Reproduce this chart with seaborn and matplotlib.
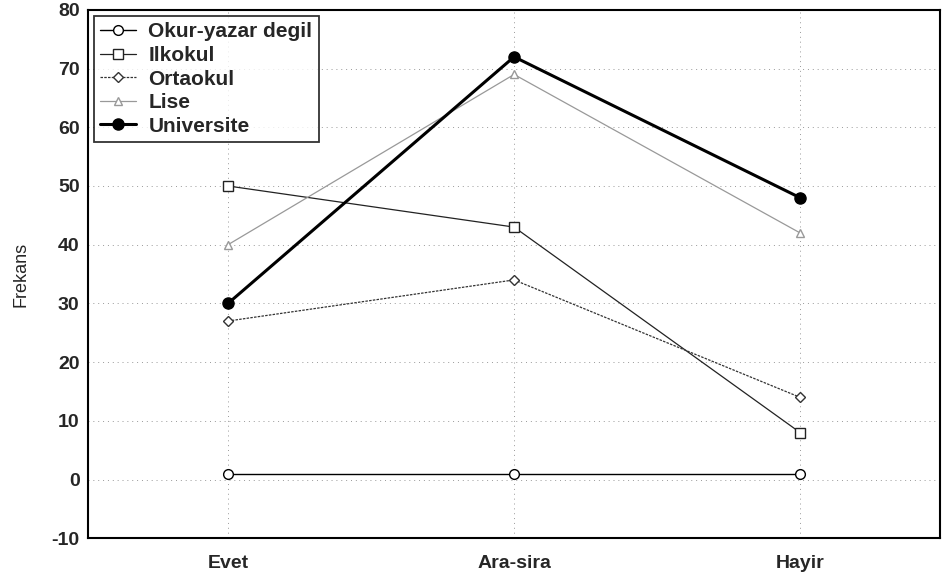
import pandas as pd
import matplotlib.pyplot as plt
import seaborn as sns

# answer categories and frequencies per education level
categories = ["Evet", "Ara-sira", "Hayir"]
okur_yazar = [1, 1, 1]
ilkokul = [50, 43, 8]
ortaokul = [27, 34, 14]
lise = [40, 69, 42]
universite = [30, 72, 48]

series = {
    "Okur-yazar degil": okur_yazar,
    "Ilkokul": ilkokul,
    "Ortaokul": ortaokul,
    "Lise": lise,
    "Universite": universite,
}

rows = []
for name, vals in series.items():
    for i, (cat, v) in enumerate(zip(categories, vals)):
        rows.append({"grup": name, "pos": i, "cevap": cat, "frekans": v})
df = pd.DataFrame(rows)

sns.set_style("white")
plt.rcParams['font.family'] = ['Liberation Sans', 'DejaVu Sans']

# look of each line: marker, face colour, line colour, width, dash
styles = {
    "Okur-yazar degil": dict(marker="o", mfc="white", color="black", lw=1.0, ls="-", ms=7),
    "Ilkokul": dict(marker="s", mfc="white", color="#222222", lw=0.9, ls="-", ms=7),
    "Ortaokul": dict(marker="D", mfc="white", color="#333333", lw=0.9, ls=(0, (2, 1)), ms=5.5),
    "Lise": dict(marker="^", mfc="white", color="#999999", lw=0.9, ls="-", ms=6),
    "Universite": dict(marker="o", mfc="black", color="black", lw=2.2, ls="-", ms=8),
}

fig = plt.figure(figsize=(9.45, 5.8), dpi=100)
ax = fig.add_axes([0.093, 0.072, 0.902, 0.911])

for name in series:
    st = styles[name]
    sub = df[df["grup"] == name]
    sns.lineplot(data=sub, x="pos", y="frekans", ax=ax, label=name,
                 color=st["color"], linewidth=st["lw"], linestyle=st["ls"],
                 marker=st["marker"], markerfacecolor=st["mfc"],
                 markeredgecolor=st["color"], markersize=st["ms"], markeredgewidth=1.0)

ax.set_xlim(-0.49, 2.49)
ax.set_ylim(-10, 80)
ax.set_xticks(range(len(categories)))
ax.set_xticklabels(categories, fontsize=14, fontweight="bold")
ax.set_yticks(range(-10, 81, 10))
ax.set_yticklabels([str(t) for t in range(-10, 81, 10)], fontsize=14, fontweight="bold")
ax.set_yticks(range(-10, 81, 2), minor=True)
ax.tick_params(axis="both", direction="in", length=5, width=1.2)
ax.tick_params(axis="x", pad=12)
ax.tick_params(axis="y", pad=6)
ax.tick_params(axis="y", which="minor", direction="in", length=3, width=0.8)
ax.set_xlabel("")
ax.set_ylabel("Frekans", fontsize=13, labelpad=16)
ax.grid(True, linestyle=(0, (1, 4)), color="#999999", linewidth=0.7)
for sp in ax.spines.values():
    sp.set_color("black")
    sp.set_linewidth(1.5)

leg = ax.legend(loc="upper left", bbox_to_anchor=(0.0, 1.0), fontsize=15,
                frameon=True, fancybox=False, borderaxespad=0.3,
                handlelength=1.7, handletextpad=0.6, labelspacing=0.22, borderpad=0.3)
leg.get_frame().set_edgecolor("black")
leg.get_frame().set_linewidth(1.3)
for t in leg.get_texts():
    t.set_fontweight("bold")

fig.savefig("out.png", dpi=100)
